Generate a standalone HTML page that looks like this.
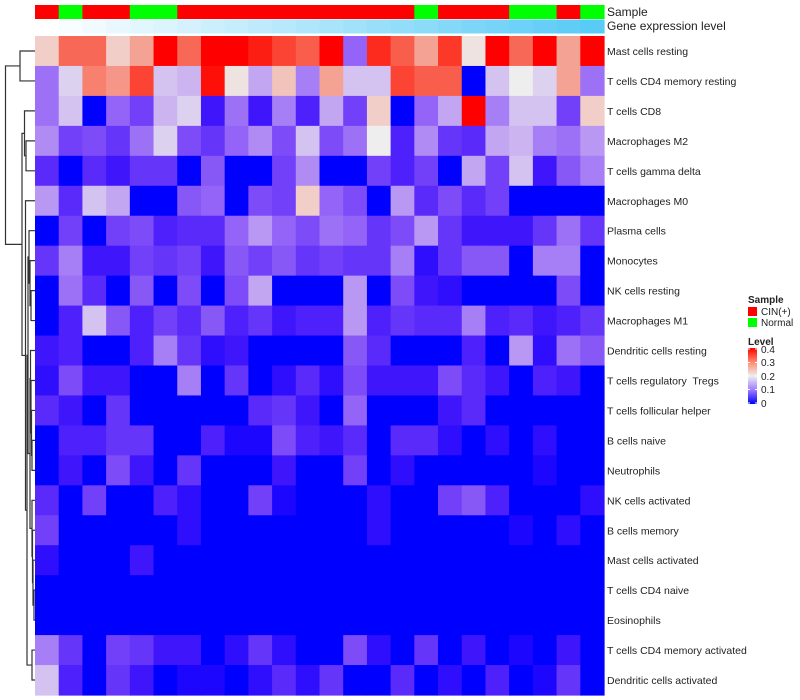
<!DOCTYPE html>
<html><head><meta charset="utf-8"><style>
html,body{margin:0;padding:0;background:#fff;}
svg{display:block;font-family:"Liberation Sans",sans-serif;}
#rowlabels text{white-space:pre;}
</style></head><body>
<svg id="chart" width="800" height="700" viewBox="0 0 800 700" xmlns="http://www.w3.org/2000/svg">
<g id="dendro" stroke="#333" stroke-width="1.2" fill="none"></g>
<g id="annot"></g>
<g id="cells"></g>
<g id="rowlabels" font-size="10.5" fill="#222" xml:space="preserve"></g>
<text x="607" y="16" font-size="12" fill="#222">Sample</text>
<text x="607" y="30" font-size="12" fill="#222">Gene expression level</text>
<g font-size="10" fill="#222">
  <text x="748" y="303" font-weight="bold">Sample</text>
  <rect x="748" y="307" width="9" height="9" fill="#ff0000"/>
  <text x="761" y="315">CIN(+)</text>
  <rect x="748" y="318" width="9" height="9" fill="#00ff00"/>
  <text x="761" y="326">Normal</text>
  <text x="748" y="345" font-weight="bold">Level</text>
  <defs><linearGradient id="lg" x1="0" y1="0" x2="0" y2="1">
    <stop offset="0" stop-color="#ff0000"/><stop offset="0.25" stop-color="#ff8a6e"/><stop offset="0.5" stop-color="#eeeeee"/><stop offset="0.75" stop-color="#9c7cff"/><stop offset="1" stop-color="#0000ff"/></linearGradient></defs>
  <rect x="748" y="348" width="9" height="56" fill="url(#lg)"/>
  <g stroke="#fff" stroke-width="1">
    <line x1="748" x2="750" y1="349" y2="349"/><line x1="755" x2="757" y1="349" y2="349"/>
    <line x1="748" x2="750" y1="362.5" y2="362.5"/><line x1="755" x2="757" y1="362.5" y2="362.5"/>
    <line x1="748" x2="750" y1="376" y2="376"/><line x1="755" x2="757" y1="376" y2="376"/>
    <line x1="748" x2="750" y1="389.5" y2="389.5"/><line x1="755" x2="757" y1="389.5" y2="389.5"/>
    <line x1="748" x2="750" y1="403" y2="403"/><line x1="755" x2="757" y1="403" y2="403"/>
  </g>
  <text x="761" y="353">0.4</text>
  <text x="761" y="366">0.3</text>
  <text x="761" y="380">0.2</text>
  <text x="761" y="393">0.1</text>
  <text x="761" y="407">0</text>
</g>
</svg>
<script>
const rowNames = ["Mast cells resting","T cells CD4 memory resting","T cells CD8","Macrophages M2","T cells gamma delta","Macrophages M0","Plasma cells","Monocytes","NK cells resting","Macrophages M1","Dendritic cells resting","T cells regulatory  Tregs","T cells follicular helper","B cells naive","Neutrophils","NK cells activated","B cells memory","Mast cells activated","T cells CD4 naive","Eosinophils","T cells CD4 memory activated","Dendritic cells activated"];
const sampleGroups = ["CIN","Normal","CIN","CIN","Normal","Normal","CIN","CIN","CIN","CIN","CIN","CIN","CIN","CIN","CIN","CIN","Normal","CIN","CIN","CIN","Normal","Normal","CIN","Normal"];
const expressionLevel = [0,0.04,0.08,0.12,0.16,0.2,0.24,0.28,0.32,0.36,0.4,0.44,0.48,0.52,0.56,0.6,0.64,0.68,0.72,0.76,0.8,0.84,0.88,0.92];
const r0 = [0.23,0.32,0.32,0.23,0.27,0.4,0.32,0.4,0.4,0.38,0.35,0.33,0.4,0.1,0.37,0.33,0.27,0.36,0.21,0.4,0.32,0.4,0.27,0.4];
const r1 = [0.11,0.18,0.3,0.28,0.35,0.17,0.16,0.39,0.21,0.15,0.24,0.12,0.27,0.17,0.17,0.35,0.33,0.33,0,0.17,0.2,0.18,0.27,0.11];
const r2 = [0.11,0.17,0,0.1,0.07,0.16,0.18,0.03,0.11,0.03,0.12,0.04,0.15,0.07,0.23,0,0.1,0.15,0.4,0.12,0.17,0.17,0.07,0.23];
const r3 = [0.13,0.07,0.08,0.06,0.11,0.18,0.08,0.06,0.1,0.13,0.08,0.17,0.08,0.11,0.2,0.04,0.13,0.06,0.05,0.15,0.16,0.12,0.11,0.14];
const r4 = [0.05,0,0.05,0.03,0.06,0.06,0,0.09,0,0,0.07,0.13,0,0,0.07,0.04,0.07,0,0.15,0.07,0.17,0.03,0.09,0.12];
const r5 = [0.14,0.05,0.17,0.15,0,0,0.09,0.1,0,0.08,0.07,0.23,0.1,0.08,0,0.14,0.05,0.08,0.05,0.07,0,0,0,0];
const r6 = [0,0.07,0,0.07,0.08,0.04,0.05,0.05,0.1,0.14,0.1,0.08,0.11,0.1,0.06,0.08,0.14,0.06,0.03,0.03,0.03,0.06,0.11,0.06];
const r7 = [0.06,0.12,0.03,0.03,0.07,0.06,0.07,0.03,0.09,0.07,0.09,0.06,0.07,0.06,0.06,0.12,0.02,0.06,0.09,0.09,0,0.12,0.12,0];
const r8 = [0,0.11,0.05,0,0.09,0,0.08,0,0.08,0.15,0,0,0,0.14,0,0.08,0.03,0.02,0,0,0,0,0.08,0];
const r9 = [0,0.04,0.17,0.09,0.04,0.07,0.05,0.09,0.04,0.06,0.03,0.04,0.04,0.14,0.04,0.06,0.05,0.05,0.12,0.04,0.05,0.03,0.04,0.06];
const r10 = [0.03,0.04,0,0,0.04,0.12,0.06,0.02,0.03,0,0,0,0,0.09,0.05,0,0,0,0.04,0,0.14,0.02,0.11,0.09];
const r11 = [0.02,0.08,0.03,0.03,0,0,0.12,0,0.06,0,0.02,0.05,0.02,0.08,0.03,0.03,0.03,0.08,0.05,0.03,0,0.04,0.03,0];
const r12 = [0.05,0.03,0,0.06,0,0,0,0,0,0.05,0.06,0.03,0,0.1,0,0,0,0.03,0.05,0,0,0,0,0];
const r13 = [0,0.04,0.04,0.06,0.06,0,0,0.04,0.01,0.01,0.08,0.04,0.03,0.05,0,0.05,0.05,0.02,0,0.02,0,0.02,0,0];
const r14 = [0,0.03,0,0.08,0.03,0,0.06,0,0,0,0.03,0,0,0.07,0,0.02,0,0,0,0,0,0.01,0,0];
const r15 = [0.05,0,0.07,0,0,0.04,0.02,0,0,0.07,0.01,0,0,0,0.02,0,0,0.07,0.09,0.04,0,0,0,0.02];
const r16 = [0.07,0,0,0,0,0,0.02,0,0,0,0,0,0,0,0.02,0,0,0,0,0,0.01,0,0.02,0];
const r17 = [0.02,0,0,0,0.03,0,0,0,0,0,0,0,0,0,0,0,0,0,0,0,0,0,0,0];
const r18 = [0,0,0,0,0,0,0,0,0,0,0,0,0,0,0,0,0,0,0,0,0,0,0,0];
const r19 = [0,0,0,0,0,0,0,0,0,0,0,0,0,0,0,0,0,0,0,0,0,0,0,0];
const r20 = [0.12,0.06,0,0.07,0.06,0.03,0.03,0,0.02,0.06,0.02,0,0,0.08,0.02,0,0.06,0,0.03,0,0.01,0,0.03,0];
const r21 = [0.17,0.04,0,0.06,0.03,0,0.01,0.01,0,0.02,0.05,0.02,0.06,0,0,0.05,0,0.02,0,0.04,0,0.01,0.06,0];
const values = [r0,r1,r2,r3,r4,r5,r6,r7,r8,r9,r10,r11,r12,r13,r14,r15,r16,r17,r18,r19,r20,r21];

const NS = "http://www.w3.org/2000/svg";
const X0 = 35, X1 = 604, Y0 = 36, Y1 = 695;
const nCol = sampleGroups.length, nRow = rowNames.length;
const cw = (X1 - X0) / nCol, rh = (Y1 - Y0) / nRow;
const xPos = i => X0 + i * cw;
const yPos = j => Y0 + j * rh;
function levelColor(v) {
  const t = Math.max(0, Math.min(1, v / 0.4));
  let r, g, b;
  if (t <= 0.5) {
    const u = t / 0.5;
    r = 238 * Math.pow(u, 0.7); g = 238 * Math.pow(u, 1.25); b = 255 - 17 * u;
  } else {
    const s = (t - 0.5) / 0.5;
    r = 238 + 17 * s; g = 238 * Math.pow(1 - s, 0.9); b = 238 * Math.pow(1 - s, 1.1);
  }
  return `rgb(${Math.round(r)},${Math.round(g)},${Math.round(b)})`;
}
function mk(tag, attrs, parent) {
  const el = document.createElementNS(NS, tag);
  for (const k in attrs) el.setAttribute(k, attrs[k]);
  parent.appendChild(el);
  return el;
}
const cells = document.getElementById('cells');
values.forEach((row, j) => {
  row.forEach((v, i) => {
    const el = mk('rect', {x: xPos(i), y: yPos(j), width: cw + 0.6, height: rh + 0.6, fill: levelColor(v)}, cells);
    
    
  });
});
const annot = document.getElementById('annot');
sampleGroups.forEach((g, i) => {
  const el = mk('rect', {x: xPos(i), y: 5, width: cw + 0.6, height: 14, fill: g === 'CIN' ? '#ff0000' : '#00ff00'}, annot);
  
  
});
expressionLevel.forEach((e, i) => {
  const r = Math.round(255 - (255 - 74) * e), g = Math.round(255 - (255 - 198) * e), b = Math.round(255 - (255 - 245) * e);
  const el = mk('rect', {x: xPos(i), y: 19.5, width: cw + 0.6, height: 14, fill: `rgb(${r},${g},${b})`}, annot);
  
  
});
const rl = document.getElementById('rowlabels');
rowNames.forEach((n, j) => {
  const el = mk('text', {x: 607, y: yPos(j) + rh / 2 + 4}, rl);
  el.textContent = n;
  
  
});
const merges = [[0,1,20],[3,4,26],[2,23,24.5],[18,19,34],[17,25,33],[16,26,32.5],[15,27,32],[13,14,32],[12,29,31.5],[11,30,31],[10,31,30.5],[32,28,30],[8,9,31],[7,34,30],[6,35,29],[36,33,28],[20,21,32],[37,38,27],[5,39,25.5],[24,40,22],[22,41,5.5]];
const nodeY = [], nodeX = [];
for (let j = 0; j < nRow; j++) { nodeY.push(yPos(j) + rh / 2); nodeX.push(X0); }
const dg = document.getElementById('dendro');
merges.forEach(m => {
  const [a, b, h] = m;
  const ya = nodeY[a], yb = nodeY[b];
  const el = mk('path', {d: `M${nodeX[a]},${ya}H${h}V${yb}H${nodeX[b]}`}, dg);
  
  
  nodeY.push((ya + yb) / 2); nodeX.push(h);
});
</script>
</body></html>
